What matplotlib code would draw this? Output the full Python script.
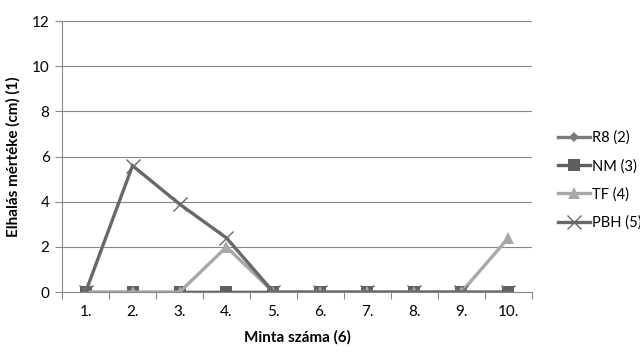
import matplotlib
matplotlib.use("Agg")
import matplotlib.pyplot as plt
import numpy as np

categories = ["1.", "2.", "3.", "4.", "5.", "6.", "7.", "8.", "9.", "10."]
r8 = [0, 0, 0, 0, 0, 0, 0, 0, 0, 0]
nm = [0, 0, 0, 0, 0, 0, 0, 0, 0, 0]
tf = [0, 0, 0, 2, 0, 0, 0, 0, 0, 2.4]
pbh = [0, 5.6, 3.9, 2.4, 0, 0, 0, 0, 0, 0]
yticks = [0, 2, 4, 6, 8, 10, 12]

plt.rcParams["font.family"] = ["Lato", "DejaVu Sans"]

fig = plt.figure(figsize=(6.4, 3.52), dpi=100)
ax = fig.add_axes([0.097, 0.170, 0.734, 0.770])

x = np.arange(1, len(categories) + 1)
series = [
    ("R8 (2)", r8, "#7b7b7b", "D", 5.5, "#7b7b7b"),
    ("NM (3)", nm, "#5f5f5f", "s", 8.5, "#5f5f5f"),
    ("TF (4)", tf, "#a8a8a8", "^", 9, "#a8a8a8"),
    ("PBH (5)", pbh, "#686868", "x", 10, "#686868"),
]
for label, vals, color, marker, ms, mc in series:
    kw = dict(markeredgewidth=1.0) if marker == "x" else dict(markeredgewidth=0)
    ax.plot(x, vals, color=color, lw=2.4, marker=marker, markersize=ms,
            markerfacecolor=mc, markeredgecolor=mc, label=label,
            solid_joinstyle="miter", **kw)

ax.set_xlim(0.5, len(categories) + 0.5)
ax.set_ylim(0, 12)
ax.set_yticks(yticks)
ax.set_xticks(x)
ax.set_xticklabels(categories)
ax.set_xticks(np.arange(0.5, len(categories) + 1, 1), minor=True)
ax.tick_params(axis="x", which="major", length=0, pad=9, labelsize=11, colors="#000000")
ax.tick_params(axis="x", which="minor", length=5, width=0.8, color="#878787")
ax.tick_params(axis="y", which="major", length=5, width=0.8, color="#878787", labelsize=11, pad=4)

ax.grid(axis="y", color="#878787", lw=0.8)
ax.set_axisbelow(True)
for side in ["top", "right"]:
    ax.spines[side].set_visible(False)
for side in ["left", "bottom"]:
    ax.spines[side].set_color("#878787")
    ax.spines[side].set_linewidth(0.8)

ax.set_xlabel("Minta száma (6)", fontsize=11, fontweight="bold", labelpad=8)
ax.set_ylabel("Elhalás mértéke (cm) (1)", fontsize=11, fontweight="bold", labelpad=8)

leg = fig.legend(loc="upper left", bbox_to_anchor=(0.862, 0.645), frameon=False,
                 fontsize=10.5, handlelength=2.2, handletextpad=0.15, labelspacing=0.95,
                 borderaxespad=0)

fig.savefig("out.png", dpi=100)
